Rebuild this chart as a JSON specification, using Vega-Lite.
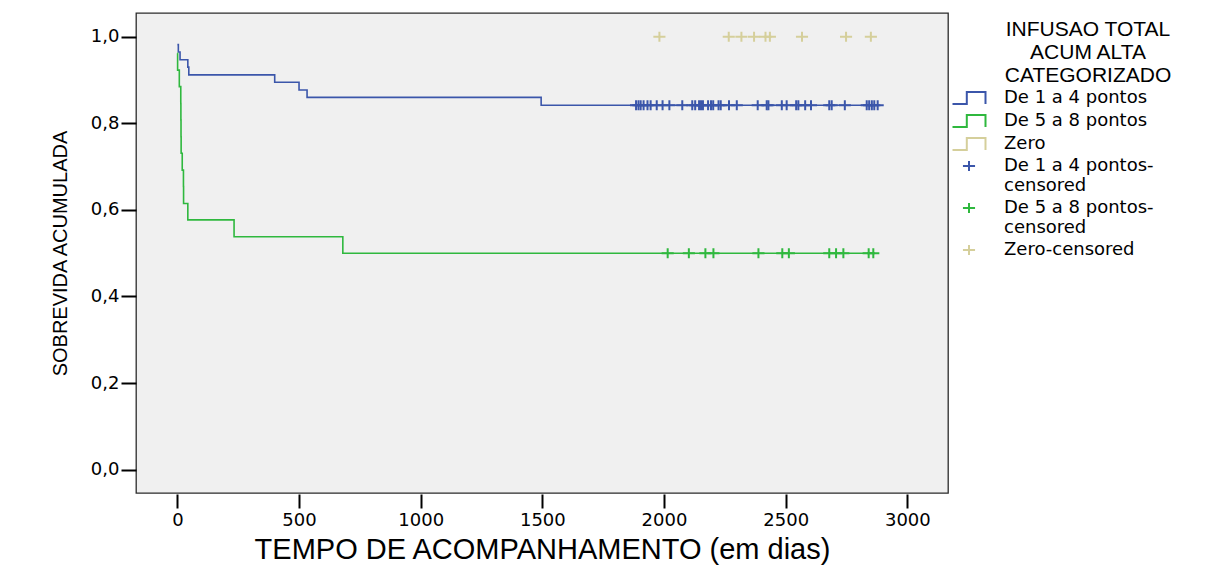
{
  "$schema": "https://vega.github.io/schema/vega-lite/v6.json",
  "width": 812,
  "height": 480,
  "autosize": "none",
  "padding": {"left": 136, "top": 13, "right": 272, "bottom": 77},
  "background": "white",
  "config": {
    "view": {"fill": "#f0f0f0", "stroke": "#2b2b2b", "strokeWidth": 1.3},
    "style": {"guide-label": {"lineHeight": 20}},
    "axis": {
      "grid": false,
      "domain": false,
      "tickColor": "#000000",
      "tickWidth": 2,
      "labelColor": "#000000",
      "titleColor": "#000000",
      "labelFont": "DejaVu Sans",
      "labelFontSize": 18,
      "titleFontWeight": "normal"
    },
    "legend": {
      "padding": 0,
      "labelFont": "DejaVu Sans",
      "labelFontSize": 18,
      "labelColor": "#000000",
      "labelLimit": 300,
      "titleLimit": 400,
      "titleColor": "#000000",
      "titleFont": "Liberation Sans",
      "titleFontSize": 21,
      "titleFontWeight": "normal"
    }
  },
  "datasets": {
    "curve": [
      {"g": "De 1 a 4 pontos", "t": 0, "s": 0.982},
      {"g": "De 1 a 4 pontos", "t": 4, "s": 0.965},
      {"g": "De 1 a 4 pontos", "t": 11, "s": 0.947},
      {"g": "De 1 a 4 pontos", "t": 43, "s": 0.93},
      {"g": "De 1 a 4 pontos", "t": 47, "s": 0.912},
      {"g": "De 1 a 4 pontos", "t": 400, "s": 0.895},
      {"g": "De 1 a 4 pontos", "t": 500, "s": 0.877},
      {"g": "De 1 a 4 pontos", "t": 533, "s": 0.86},
      {"g": "De 1 a 4 pontos", "t": 1495, "s": 0.842},
      {"g": "De 1 a 4 pontos", "t": 2878, "s": 0.842},
      {"g": "De 5 a 8 pontos", "t": 0, "s": 0.962},
      {"g": "De 5 a 8 pontos", "t": 1, "s": 0.923},
      {"g": "De 5 a 8 pontos", "t": 8, "s": 0.885},
      {"g": "De 5 a 8 pontos", "t": 14, "s": 0.846},
      {"g": "De 5 a 8 pontos", "t": 14.5, "s": 0.808},
      {"g": "De 5 a 8 pontos", "t": 15, "s": 0.769},
      {"g": "De 5 a 8 pontos", "t": 15.5, "s": 0.731},
      {"g": "De 5 a 8 pontos", "t": 20, "s": 0.692},
      {"g": "De 5 a 8 pontos", "t": 25, "s": 0.654},
      {"g": "De 5 a 8 pontos", "t": 25.5, "s": 0.615},
      {"g": "De 5 a 8 pontos", "t": 43, "s": 0.577},
      {"g": "De 5 a 8 pontos", "t": 233, "s": 0.538},
      {"g": "De 5 a 8 pontos", "t": 680, "s": 0.5},
      {"g": "De 5 a 8 pontos", "t": 2860, "s": 0.5}
    ],
    "cens": [
      {"g": "De 1 a 4 pontos-censored", "t": 1885, "s": 0.842},
      {"g": "De 1 a 4 pontos-censored", "t": 1895, "s": 0.842},
      {"g": "De 1 a 4 pontos-censored", "t": 1904, "s": 0.842},
      {"g": "De 1 a 4 pontos-censored", "t": 1916, "s": 0.842},
      {"g": "De 1 a 4 pontos-censored", "t": 1932, "s": 0.842},
      {"g": "De 1 a 4 pontos-censored", "t": 1945, "s": 0.842},
      {"g": "De 1 a 4 pontos-censored", "t": 1970, "s": 0.842},
      {"g": "De 1 a 4 pontos-censored", "t": 1994, "s": 0.842},
      {"g": "De 1 a 4 pontos-censored", "t": 2022, "s": 0.842},
      {"g": "De 1 a 4 pontos-censored", "t": 2075, "s": 0.842},
      {"g": "De 1 a 4 pontos-censored", "t": 2116, "s": 0.842},
      {"g": "De 1 a 4 pontos-censored", "t": 2128, "s": 0.842},
      {"g": "De 1 a 4 pontos-censored", "t": 2144, "s": 0.842},
      {"g": "De 1 a 4 pontos-censored", "t": 2152, "s": 0.842},
      {"g": "De 1 a 4 pontos-censored", "t": 2160, "s": 0.842},
      {"g": "De 1 a 4 pontos-censored", "t": 2181, "s": 0.842},
      {"g": "De 1 a 4 pontos-censored", "t": 2193, "s": 0.842},
      {"g": "De 1 a 4 pontos-censored", "t": 2202, "s": 0.842},
      {"g": "De 1 a 4 pontos-censored", "t": 2224, "s": 0.842},
      {"g": "De 1 a 4 pontos-censored", "t": 2233, "s": 0.842},
      {"g": "De 1 a 4 pontos-censored", "t": 2267, "s": 0.842},
      {"g": "De 1 a 4 pontos-censored", "t": 2299, "s": 0.842},
      {"g": "De 1 a 4 pontos-censored", "t": 2385, "s": 0.842},
      {"g": "De 1 a 4 pontos-censored", "t": 2422, "s": 0.842},
      {"g": "De 1 a 4 pontos-censored", "t": 2429, "s": 0.842},
      {"g": "De 1 a 4 pontos-censored", "t": 2484, "s": 0.842},
      {"g": "De 1 a 4 pontos-censored", "t": 2504, "s": 0.842},
      {"g": "De 1 a 4 pontos-censored", "t": 2543, "s": 0.842},
      {"g": "De 1 a 4 pontos-censored", "t": 2552, "s": 0.842},
      {"g": "De 1 a 4 pontos-censored", "t": 2580, "s": 0.842},
      {"g": "De 1 a 4 pontos-censored", "t": 2604, "s": 0.842},
      {"g": "De 1 a 4 pontos-censored", "t": 2679, "s": 0.842},
      {"g": "De 1 a 4 pontos-censored", "t": 2689, "s": 0.842},
      {"g": "De 1 a 4 pontos-censored", "t": 2743, "s": 0.842},
      {"g": "De 1 a 4 pontos-censored", "t": 2833, "s": 0.842},
      {"g": "De 1 a 4 pontos-censored", "t": 2843, "s": 0.842},
      {"g": "De 1 a 4 pontos-censored", "t": 2854, "s": 0.842},
      {"g": "De 1 a 4 pontos-censored", "t": 2864, "s": 0.842},
      {"g": "De 1 a 4 pontos-censored", "t": 2878, "s": 0.842},
      {"g": "De 5 a 8 pontos-censored", "t": 2015, "s": 0.5},
      {"g": "De 5 a 8 pontos-censored", "t": 2102, "s": 0.5},
      {"g": "De 5 a 8 pontos-censored", "t": 2170, "s": 0.5},
      {"g": "De 5 a 8 pontos-censored", "t": 2203, "s": 0.5},
      {"g": "De 5 a 8 pontos-censored", "t": 2388, "s": 0.5},
      {"g": "De 5 a 8 pontos-censored", "t": 2486, "s": 0.5},
      {"g": "De 5 a 8 pontos-censored", "t": 2513, "s": 0.5},
      {"g": "De 5 a 8 pontos-censored", "t": 2679, "s": 0.5},
      {"g": "De 5 a 8 pontos-censored", "t": 2707, "s": 0.5},
      {"g": "De 5 a 8 pontos-censored", "t": 2737, "s": 0.5},
      {"g": "De 5 a 8 pontos-censored", "t": 2841, "s": 0.5},
      {"g": "De 5 a 8 pontos-censored", "t": 2860, "s": 0.5},
      {"g": "Zero-censored", "t": 1981, "s": 1.0},
      {"g": "Zero-censored", "t": 2266, "s": 1.0},
      {"g": "Zero-censored", "t": 2318, "s": 1.0},
      {"g": "Zero-censored", "t": 2370, "s": 1.0},
      {"g": "Zero-censored", "t": 2417, "s": 1.0},
      {"g": "Zero-censored", "t": 2435, "s": 1.0},
      {"g": "Zero-censored", "t": 2567, "s": 1.0},
      {"g": "Zero-censored", "t": 2748, "s": 1.0},
      {"g": "Zero-censored", "t": 2850, "s": 1.0}
    ]
  },
  "encoding": {
    "x": {
      "field": "t",
      "type": "quantitative",
      "scale": {"domain": [-170, 3167], "nice": false, "zero": false},
      "axis": {
        "values": [0, 500, 1000, 1500, 2000, 2500, 3000],
        "format": "d",
        "offset": 1,
        "tickSize": 14,
        "labelPadding": 3,
        "title": "TEMPO DE ACOMPANHAMENTO (em dias)",
        "titleFont": "Liberation Sans",
        "titleFontSize": 29,
        "titlePadding": 6
      }
    },
    "y": {
      "field": "s",
      "type": "quantitative",
      "scale": {"domain": [-0.054, 1.055], "nice": false, "zero": false},
      "axis": {
        "values": [0, 0.2, 0.4, 0.6, 0.8, 1.0],
        "labelExpr": "replace(format(datum.value, '.1f'), '.', ',')",
        "tickSize": 15,
        "labelPadding": 2,
        "title": "SOBREVIDA ACUMULADA",
        "titleFont": "Liberation Sans",
        "titleFontSize": 20,
        "titlePadding": 20
      }
    }
  },
  "layer": [
    {
      "data": {"name": "curve"},
      "mark": {"type": "line", "interpolate": "step-after", "strokeWidth": 1.6},
      "encoding": {
        "color": {
          "field": "g",
          "type": "nominal",
          "scale": {
            "domain": ["De 1 a 4 pontos", "De 5 a 8 pontos", "Zero"],
            "range": ["#3b56aa", "#2fb83e", "#d5cf9b"]
          },
          "legend": {
            "title": ["INFUSAO TOTAL", "ACUM ALTA", "CATEGORIZADO"],
            "titleAlign": "center",
            "titleAnchor": "middle",
            "titleLineHeight": 23,
            "titlePadding": 0,
            "symbolType": "M-1.5,0.55H-0.2V-0.55H1.5V0.55",
            "symbolSize": 484,
            "symbolStrokeWidth": 2,
            "symbolFillColor": "transparent",
            "labelOffset": 23,
            "rowPadding": 0,
            "orient": "none",
            "legendX": 821,
            "legendY": 6,
            "encode": {"title": {"update": {"dx": {"value": 36}}}}
          }
        }
      }
    },
    {
      "data": {"name": "cens"},
      "mark": {
        "type": "point",
        "shape": "M-0.55,0H0.55M0,-0.45V0.45",
        "size": 484,
        "filled": false,
        "strokeWidth": 2,
        "opacity": 1
      },
      "encoding": {
        "color": {
          "field": "g",
          "type": "nominal",
          "scale": {
            "domain": ["De 1 a 4 pontos-censored", "De 5 a 8 pontos-censored", "Zero-censored"],
            "range": ["#3b56aa", "#2fb83e", "#d5cf9b"]
          },
          "legend": {
            "title": null,
            "symbolType": "M-0.55,0H0.55M0,-0.45V0.45",
            "symbolSize": 484,
            "symbolStrokeWidth": 2,
            "labelOffset": 23,
            "rowPadding": 1,
            "orient": "none",
            "legendX": 821,
            "legendY": 141,
            "labelExpr": "datum.label == 'De 1 a 4 pontos-censored' ? ['De 1 a 4 pontos-', 'censored'] : datum.label == 'De 5 a 8 pontos-censored' ? ['De 5 a 8 pontos-', 'censored'] : datum.label"
          }
        }
      }
    }
  ],
  "resolve": {"scale": {"color": "independent"}}
}
